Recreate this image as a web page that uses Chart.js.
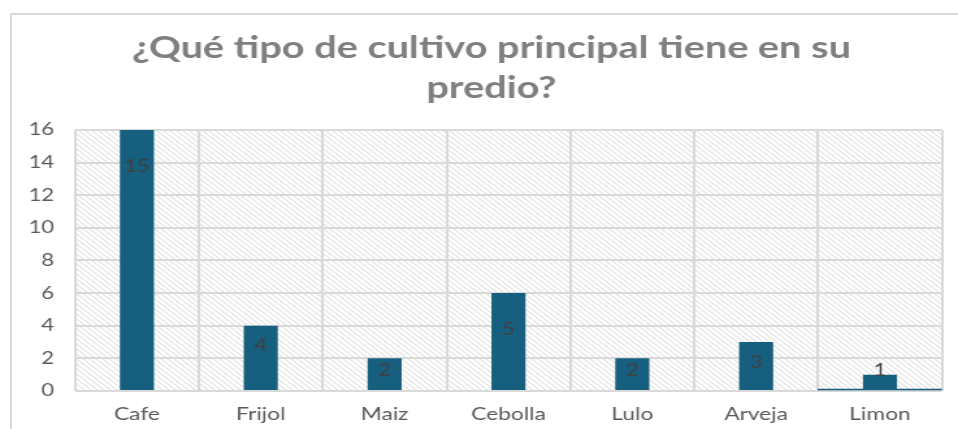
<!DOCTYPE html>
<html><head><meta charset="utf-8">
<script src="https://cdn.jsdelivr.net/npm/chart.js@4/dist/chart.umd.min.js"></script>
<style>
html,body{margin:0;padding:0;background:#fff;overflow:hidden;}
#frame{position:absolute;left:10px;top:13px;width:960px;height:430px;border:2px solid #d9d9d9;box-sizing:border-box;}
#stretch{position:absolute;left:0;top:0;width:756px;height:429px;transform:scaleX(1.29986);transform-origin:0 0;}
#c{display:block;}
</style></head>
<body>
<div id="frame"></div>
<div id="stretch"><canvas id="c" width="756" height="429"></canvas></div>
<script>
const categories = ['Cafe','Frijol','Maiz','Cebolla','Lulo','Arveja','Limon'];
const barValues = [16, 4, 2, 6, 2, 3, 1];
const labelValues = [15, 4, 2, 5, 2, 3, 1];
const baseLine = [null, null, null, null, null, null, [0, 0.12]];
const yTicks = [0, 2, 4, 6, 8, 10, 12, 14, 16];
const titleLines = ['¿Qué tipo de cultivo principal tiene en su', 'predio?'];

function hatch(){
  const s = 5, c = document.createElement('canvas');
  c.width = s; c.height = s;
  const g = c.getContext('2d');
  g.fillStyle = '#ffffff'; g.fillRect(0,0,s,s);
  g.strokeStyle = '#e3e3e3'; g.lineWidth = 1.2;
  g.beginPath();
  g.moveTo(-1,-1); g.lineTo(s+1,s+1);
  g.moveTo(-1,s-1); g.lineTo(1,s+1);
  g.moveTo(s-1,-1); g.lineTo(s+1,1);
  g.stroke();
  return g.createPattern(c,'repeat');
}

const bgPlugin = {
  id:'bg',
  beforeDraw(chart){
    const {ctx, chartArea:a} = chart;
    ctx.save();
    ctx.fillStyle = hatch();
    ctx.fillRect(a.left, a.top, a.right-a.left, a.bottom-a.top);
    ctx.restore();
  }
};

const labelPlugin = {
  id:'lbl',
  afterDatasetsDraw(chart){
    const {ctx, scales:{x,y}} = chart;
    ctx.save();
    ctx.font = '17px Lato';
    ctx.fillStyle = '#404040';
    ctx.textAlign = 'center';
    ctx.textBaseline = 'middle';
    const base = y.getPixelForValue(0);
    labelValues.forEach((v,i)=>{
      const px = x.getPixelForValue(i);
      const py = Math.min(y.getPixelForValue(v) + 20, base - 20);
      ctx.fillText(String(v), px, py);
    });
    ctx.restore();
  }
};

new Chart(document.getElementById('c'), {
  type:'bar',
  data:{
    labels:categories,
    datasets:[
      {data:barValues, backgroundColor:'#175f7f', barPercentage:0.275, categoryPercentage:1, order:1},
      {data:baseLine, backgroundColor:'#175f7f', barPercentage:1, categoryPercentage:1, grouped:false, order:2}
    ]
  },
  options:{
    responsive:false,
    maintainAspectRatio:false,
    animation:false,
    layout:{padding:{left:0,right:0,top:0,bottom:0}},
    plugins:{
      legend:{display:false},
      tooltip:{enabled:false},
      title:{display:true, text:titleLines, color:'#7f7f7f',
        font:{family:'Lato', size:30.5, weight:'bold', lineHeight:1.31},
        padding:{top:28,bottom:22}}
    },
    scales:{
      x:{
        grid:{color:'#d9d9d9', lineWidth:2, offset:true, drawTicks:false},
        border:{display:false},
        ticks:{color:'#595959', font:{family:'Lato', size:17.5}, padding:13},
        afterFit(s){ s.height = 38; }
      },
      y:{
        min:0, max:16,
        afterBuildTicks(s){ s.ticks = yTicks.map(v=>({value:v})); },
        grid:{color:'#d9d9d9', lineWidth:2, drawTicks:false},
        border:{display:false},
        ticks:{color:'#595959', font:{family:'Lato', size:17}, padding:16},
        afterFit(s){ s.width = 57.7; }
      },
      yPad:{
        position:'right', display:true,
        grid:{display:false, drawTicks:false}, border:{display:false},
        ticks:{display:false},
        afterFit(s){ s.width = 31.4; }
      }
    }
  },
  plugins:[bgPlugin, labelPlugin]
});
</script>
</body></html>
